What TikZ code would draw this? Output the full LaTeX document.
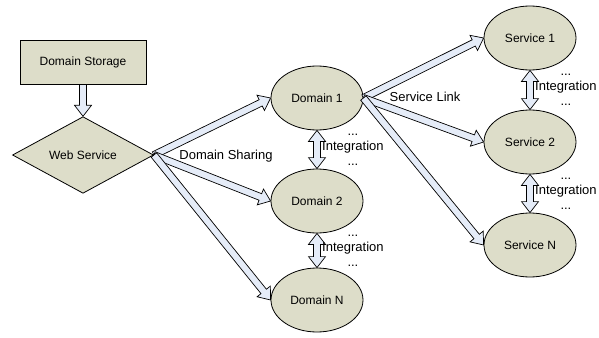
\documentclass[tikz,border=0pt]{standalone}
\usepackage{fontspec}
\setmainfont{Liberation Sans}
\usepackage{tikz}
\usetikzlibrary{shapes.geometric, calc}

\definecolor{nodefill}{RGB}{221,221,201}
\definecolor{arrowfill}{RGB}{229,236,248}

\tikzset{
  box/.style={draw, fill=nodefill, line width=0.8pt, minimum width=126pt, minimum height=44pt, font=\fontsize{12}{14}\selectfont},
  dia/.style={draw, diamond, fill=nodefill, line width=0.8pt, minimum width=141pt, minimum height=63pt, inner sep=0pt, font=\fontsize{12}{14}\selectfont},
  oval/.style={draw, ellipse, fill=nodefill, line width=0.8pt, minimum width=92pt, minimum height=64pt, inner sep=0pt, font=\fontsize{12}{14}\selectfont},
  fat/.style={draw, fill=arrowfill, line width=0.7pt, line join=miter},
  lbl/.style={font=\fontsize{13}{15}\selectfont, inner sep=0pt},
  integ/.style={lbl, align=center, anchor=west}
}

% block arrow, one head, from #1 to #2
\newcommand{\blockarrow}[2]{%
  \draw[fat] let \p1=(#1), \p2=(#2), \n1={atan2(\y2-\y1,\x2-\x1)},
      \n2={veclen(\x2-\x1,\y2-\y1)}, \n3={\n2-11pt} in
    {[shift={(\p1)}, rotate=\n1]
      (0pt,-3.5pt) -- (\n3,-3.5pt) -- (\n3,-8.5pt) -- (\n2,0pt)
      -- (\n3,8.5pt) -- (\n3,3.5pt) -- (0pt,3.5pt) -- cycle};
}
% block arrow, heads at both ends
\newcommand{\blockdarrow}[2]{%
  \draw[fat] let \p1=(#1), \p2=(#2), \n1={atan2(\y2-\y1,\x2-\x1)},
      \n2={veclen(\x2-\x1,\y2-\y1)}, \n3={\n2-11pt} in
    {[shift={(\p1)}, rotate=\n1]
      (0pt,0pt) -- (11pt,8.5pt) -- (11pt,3.5pt) -- (\n3,3.5pt) -- (\n3,8.5pt)
      -- (\n2,0pt) -- (\n3,-8.5pt) -- (\n3,-3.5pt) -- (11pt,-3.5pt)
      -- (11pt,-8.5pt) -- cycle};
}

\begin{document}
\begin{tikzpicture}[x=1pt, y=-1pt]
\useasboundingbox (0,0) rectangle (599,337);

% Source side
\node[box] (store) at (83,62) {Domain Storage};
\node[dia] (web) at (83,155) {Web Service};

% Domains
\node[oval] (d1) at (317,98) {Domain 1};
\node[oval] (d2) at (317,201) {Domain 2};
\node[oval] (dN) at (317,300) {Domain N};

% Services
\node[oval] (s1) at (530,38) {Service 1};
\node[oval] (s2) at (530,142) {Service 2};
\node[oval] (sN) at (530,245) {Service N};

% Links
\blockarrow{store.south}{web.north}
\blockarrow{web.east}{d1.west}
\blockarrow{web.east}{d2.west}
\blockarrow{web.east}{dN.west}
\blockarrow{d1.east}{s1.west}
\blockarrow{d1.east}{s2.west}
\blockarrow{d1.east}{sN.west}

% Integration between neighbours
\blockdarrow{d1.south}{d2.north}
\blockdarrow{d2.south}{dN.north}
\blockdarrow{s1.south}{s2.north}
\blockdarrow{s2.south}{sN.north}

% Labels
\node[lbl] (share) at (226,156) {Domain Sharing};
\node[lbl] (slink) at (425,97) {Service Link};
\node[integ] (int1) at ($(d1.south)!.5!(d2.north)+(5,0)$) {...\\Integration\\...};
\node[integ] (int2) at ($(d2.south)!.5!(dN.north)+(5,0)$) {...\\Integration\\...};
\node[integ] (int3) at ($(s1.south)!.5!(s2.north)+(5,0)$) {...\\Integration\\...};
\node[integ] (int4) at ($(s2.south)!.5!(sN.north)+(5,0)$) {...\\Integration\\...};
\end{tikzpicture}
\end{document}
